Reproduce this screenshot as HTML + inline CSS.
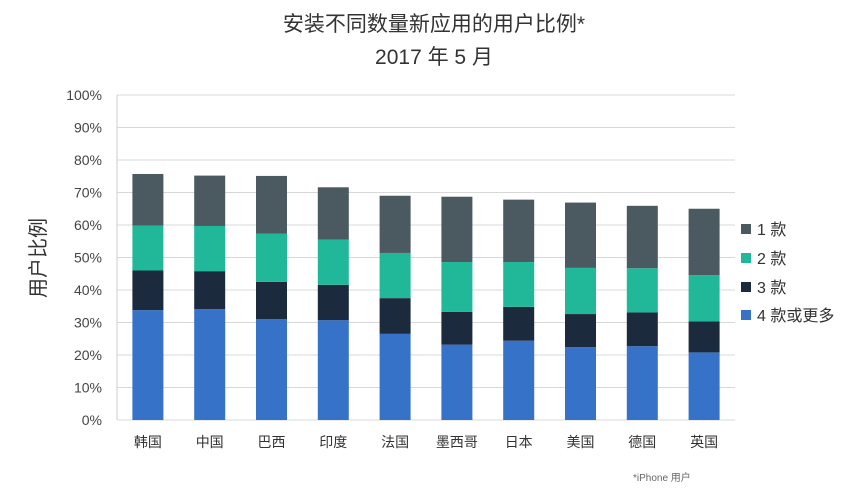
<!DOCTYPE html>
<html><head><meta charset="utf-8"><style>
body{margin:0;background:#fff;width:868px;height:492px;overflow:hidden;font-family:"Liberation Sans","Noto Sans CJK SC",sans-serif}
</style></head><body>
<svg id="c" width="868" height="492" font-family="Liberation Sans, Noto Sans CJK SC, sans-serif">
<text x="434" y="31" text-anchor="middle" font-size="21" fill="#333">安装不同数量新应用的用户比例*</text>
<text x="434" y="64" text-anchor="middle" font-size="21" fill="#333">2017 年 5 月</text>
<text transform="translate(45,258) rotate(-90)" text-anchor="middle" font-size="20" fill="#333">用户比例</text>
<text x="633" y="481" font-size="10" fill="#666">*iPhone 用户</text>
<g id="grid"></g><g id="bars"></g><g id="legend"></g>
</svg>
<script>
const categories=["韩国","中国","巴西","印度","法国","墨西哥","日本","美国","德国","英国"];
const s4=[33.8,34.1,31,30.7,26.5,23.2,24.4,22.4,22.7,20.8];
const s3=[12.2,11.7,11.5,10.9,11,10.1,10.4,10.2,10.4,9.5];
const s2=[13.8,13.9,14.8,13.9,13.9,15.3,13.8,14.2,13.6,14.3];
const s1=[15.9,15.5,17.8,16.1,17.6,20.1,19.2,20.1,19.2,20.4];
const yTicks=[0,10,20,30,40,50,60,70,80,90,100];
const seriesNames=["1 款","2 款","3 款","4 款或更多"];
const NS="http://www.w3.org/2000/svg";
const x0=117,x1=735,yb=420,yt=95;
const y=v=>yb-(yb-yt)*v/100;
const step=(x1-x0)/categories.length;
const xc=i=>x0+step*(i+0.5);
function mk(t,a,p){const e=document.createElementNS(NS,t);for(const k in a)e.setAttribute(k,a[k]);p.appendChild(e);return e;}
const g=document.getElementById('grid');
yTicks.forEach(t=>{
 const l=mk('line',{x1:x0,x2:x1,y1:y(t),y2:y(t),stroke:'#d8d8d8','stroke-width':1},g);
 
 
 const tx=mk('text',{x:102,y:y(t)+5,'text-anchor':'end','font-size':14,fill:'#444'},g);
 tx.textContent=t+'%';
 
 
});
const ax=mk('line',{x1:x0,x2:x0,y1:yt,y2:yb,stroke:'#ccc'},g);


const colors=["#4b5960","#21b89a","#1c2a3e","#3572c8"];
const b=document.getElementById('bars');
categories.forEach((c,i)=>{
 const vals=[s4[i],s3[i],s2[i],s1[i]];const cols=[colors[3],colors[2],colors[1],colors[0]];
 let acc=0;
 vals.forEach((v,j)=>{
  const r=mk('rect',{x:xc(i)-15.5,width:31,y:y(acc+v),height:y(acc)-y(acc+v),fill:cols[j]},b);
  
  
  acc+=v;
 });
 const t=mk('text',{x:xc(i),y:447,'text-anchor':'middle','font-size':14,fill:'#333'},b);
 t.textContent=c;
 
 
});
const lg=document.getElementById('legend');
const ly=[229,258,287,315];
seriesNames.forEach((n,i)=>{
 const r=mk('rect',{x:741,y:ly[i]-5,width:10,height:10,fill:colors[i]},lg);
 
 
 const t=mk('text',{x:757,y:ly[i]+6,'font-size':16,fill:'#333'},lg);
 t.textContent=n;
 
 
});
</script>
</body></html>
